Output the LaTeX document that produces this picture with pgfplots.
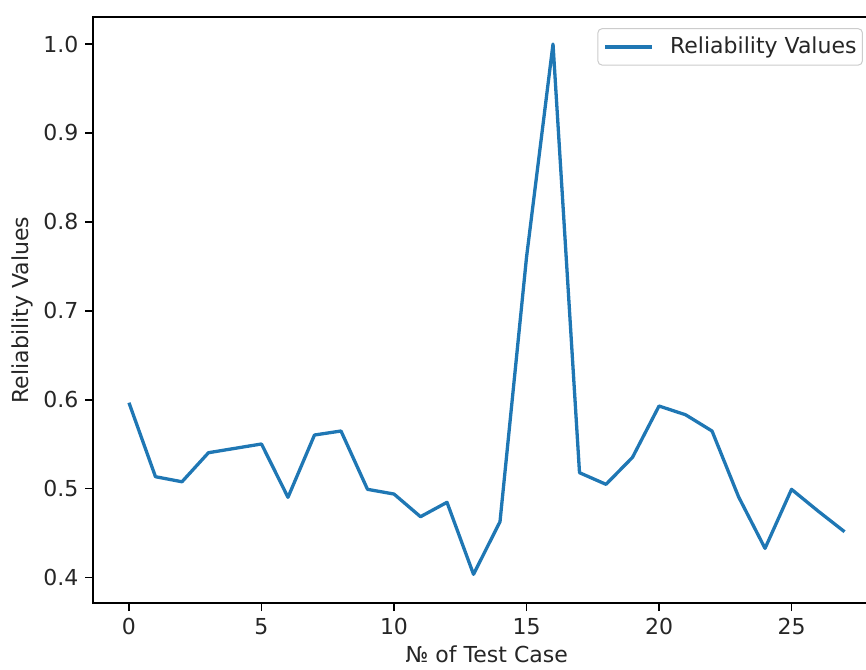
\documentclass[border=0pt]{standalone}
\usepackage{fontspec}
\setmainfont{DejaVu Sans}
\usepackage{pgfplots}
\pgfplotsset{compat=1.18}
\definecolor{mplblue}{HTML}{1F77B4}
\newcommand{\mplfont}{\fontsize{11pt}{13.2pt}\selectfont}

\begin{document}
\begin{tikzpicture}
\begin{axis}[
    name=ax,
    at={(0,0)}, anchor=south west,
    scale only axis,
    width=393.55pt, height=293.15pt,
    xmin=-1.35, xmax=28.35,
    ymin=0.3709, ymax=1.0304,
    xtick={0,5,...,25},
    ytick={0.4,0.5,...,1.0},
    tick align=outside,
    major tick length=3.85pt,
    axis line style={line width=0.88pt},
    every tick/.style={line width=0.88pt, black},
    xtick pos=bottom, ytick pos=left,
    /pgf/number format/assume math mode=true,
    tick label style={font=\mplfont, text=black!85},
    yticklabel style={/pgf/number format/.cd, fixed, fixed zerofill, precision=1},
    xlabel={№ of Test Case},
    ylabel={Reliability Values},
    xlabel style={font=\mplfont, text=black!85, at={(axis description cs:0.5,-0.1015)}, anchor=base},
    ylabel style={font=\mplfont, text=black!85, at={(axis description cs:-0.0826,0.5)}, rotate=0, anchor=base},
    legend style={
        at={(axis description cs:0.978,0.981)}, anchor=north east,
        draw=black!20, line width=0.5pt, fill=white, fill opacity=0.8, text opacity=1,
        rounded corners=2.2pt,
        inner xsep=3pt, inner ysep=4.2pt,
        font=\mplfont, text=black!85,
        nodes={inner sep=0pt},
        /tikz/every odd column/.append style={column sep=8pt},
    },
    legend image code/.code={\draw[#1, line width=1.65pt] (0pt,0pt) -- (23.5pt,0pt);},
]
\addplot[color=mplblue, line width=1.65pt, line join=round] coordinates {
    (0,0.5965)(1,0.5133)(2,0.5076)(3,0.5403)(4,0.5452)(5,0.5501)(6,0.4901)
    (7,0.5602)(8,0.5647)(9,0.4991)(10,0.4938)(11,0.4683)(12,0.4845)(13,0.4035)
    (14,0.4627)(15,0.7600)(16,1.0000)(17,0.5178)(18,0.5047)(19,0.5351)(20,0.5928)
    (21,0.5830)(22,0.5647)(23,0.4908)(24,0.4327)(25,0.4991)(26,0.4747)(27,0.4514)};
\addlegendentry{Reliability Values}
\end{axis}
\pgfresetboundingbox
\useasboundingbox ([shift={(-46.6pt,-32.85pt)}]ax.south west) rectangle ++(433pt,334.5pt);
\end{tikzpicture}
\end{document}
